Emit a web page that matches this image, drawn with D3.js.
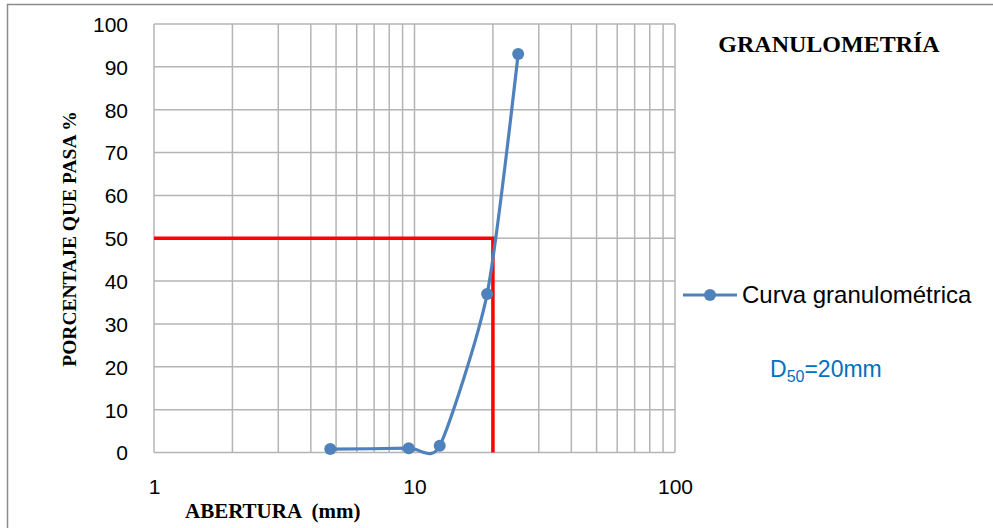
<!DOCTYPE html>
<html>
<head>
<meta charset="utf-8">
<script src="https://cdn.jsdelivr.net/npm/d3@7"></script>
<style>
  html, body { margin: 0; padding: 0; background: #fff; }
  svg { display: block; }
</style>
</head>
<body>
<svg id="chart" width="993" height="528"></svg>
<script>
// Sieve openings (mm) and cumulative percent passing
const aberturas = [4.75, 9.5, 12.5, 19, 25];
const pasa = [0.8, 1.0, 1.6, 37, 93];
const xTickLabels = [1, 10, 100];
const yTickLabels = [0, 10, 20, 30, 40, 50, 60, 70, 80, 90, 100];
const d50 = 20;
const d50Pasa = 50;

(function () {
const svg = d3.select("#chart");
const plotLeft = 154, plotRight = 675, plotTop = 24, plotBottom = 452.5;

const x = d3.scaleLog().domain([1, 100]).range([plotLeft, plotRight]);
const y = d3.scaleLinear().domain([0, 100]).range([plotBottom, plotTop]);

// outer chart frame
svg.append("rect")
  .attr("x", 7.5).attr("y", 4.5)
  .attr("width", 1100).attr("height", 600)
  .attr("fill", "none").attr("stroke", "#8c8c8c").attr("stroke-width", 1.5);

const gridColor = "#b4b4b4";
const grid = svg.append("g");

// vertical log grid: 1..9 in each decade plus 100
const xGrid = [];
[1, 10].forEach(dec => { for (let k = 1; k <= 9; k++) xGrid.push(k * dec); });
xGrid.push(100);
grid.selectAll("line.vx").data(xGrid).join("line")
  .attr("x1", d => x(d)).attr("x2", d => x(d))
  .attr("y1", plotTop).attr("y2", plotBottom)
  .attr("stroke", gridColor).attr("stroke-width", 1.5);

grid.selectAll("line.hy").data(yTickLabels).join("line")
  .attr("x1", plotLeft).attr("x2", plotRight)
  .attr("y1", d => y(d)).attr("y2", d => y(d))
  .attr("stroke", gridColor).attr("stroke-width", 1.5);

// axes labels
const yAxis = d3.axisLeft(y).tickValues(yTickLabels).tickSize(0).tickPadding(26);
svg.append("g").attr("transform", `translate(${plotLeft},0)`).call(yAxis)
  .call(g => g.select(".domain").remove())
  .call(g => g.selectAll("text")
    .attr("font-family", "'Liberation Sans', Arial, sans-serif")
    .attr("font-size", 21).attr("fill", "#000").attr("dy", "0.35em"));

const xAxis = d3.axisBottom(x).tickValues(xTickLabels).tickFormat(d3.format("d")).tickSize(0).tickPadding(27);
svg.append("g").attr("transform", `translate(0,${plotBottom})`).call(xAxis)
  .call(g => g.select(".domain").remove())
  .call(g => g.selectAll("text")
    .attr("font-family", "'Liberation Sans', Arial, sans-serif")
    .attr("font-size", 21).attr("fill", "#000"));

// D50 reference lines
svg.append("path")
  .attr("d", `M${x(1)},${y(d50Pasa)}H${x(d50)}V${y(0)}`)
  .attr("fill", "none").attr("stroke", "#ff0000").attr("stroke-width", 3.5);

// gradation curve (smoothed)
const pts = aberturas.map((a, i) => [x(a), y(pasa[i])]);
const line = d3.line().curve(d3.curveCardinal.tension(0.35));
svg.append("path")
  .attr("d", line(pts))
  .attr("fill", "none").attr("stroke", "#4f81bd").attr("stroke-width", 3.2);
svg.selectAll("circle.pt").data(pts).join("circle")
  .attr("cx", d => d[0]).attr("cy", d => d[1]).attr("r", 6)
  .attr("fill", "#4f81bd");

// title
svg.append("text")
  .attr("x", 829).attr("y", 52).attr("text-anchor", "middle")
  .attr("font-family", "'Liberation Serif', 'DejaVu Serif', serif")
  .attr("font-weight", "bold").attr("font-size", 24)
  .text("GRANULOMETRÍA");

// axis titles
svg.append("text")
  .attr("transform", "translate(76,239) rotate(-90)")
  .attr("text-anchor", "middle")
  .attr("font-family", "'Liberation Serif', 'DejaVu Serif', serif")
  .attr("font-weight", "bold").attr("font-size", 19.5)
  .text("PORCENTAJE QUE PASA %");

svg.append("text")
  .attr("x", 185).attr("y", 518)
  .attr("font-family", "'Liberation Serif', 'DejaVu Serif', serif")
  .attr("font-weight", "bold").attr("font-size", 21)
  .attr("xml:space", "preserve")
  .text("ABERTURA  (mm)");

// legend
const lg = svg.append("g");
lg.append("line").attr("x1", 683).attr("x2", 737).attr("y1", 295).attr("y2", 295)
  .attr("stroke", "#4f81bd").attr("stroke-width", 3.2);
lg.append("circle").attr("cx", 710).attr("cy", 295).attr("r", 6).attr("fill", "#4f81bd");
lg.append("text").attr("x", 742).attr("y", 303)
  .attr("font-family", "'Liberation Sans', Arial, sans-serif")
  .attr("font-size", 24).attr("fill", "#000")
  .text("Curva granulométrica");

// D50 annotation
const dl = svg.append("text").attr("x", 770).attr("y", 377)
  .attr("font-family", "'Liberation Sans', Arial, sans-serif")
  .attr("font-size", 23).attr("fill", "#0070c0");
dl.append("tspan").text("D");
dl.append("tspan").attr("font-size", 16).attr("dy", 5).text("50");
dl.append("tspan").attr("dy", -5).text("=" + d50 + "mm");
})();
</script>
</body>
</html>
